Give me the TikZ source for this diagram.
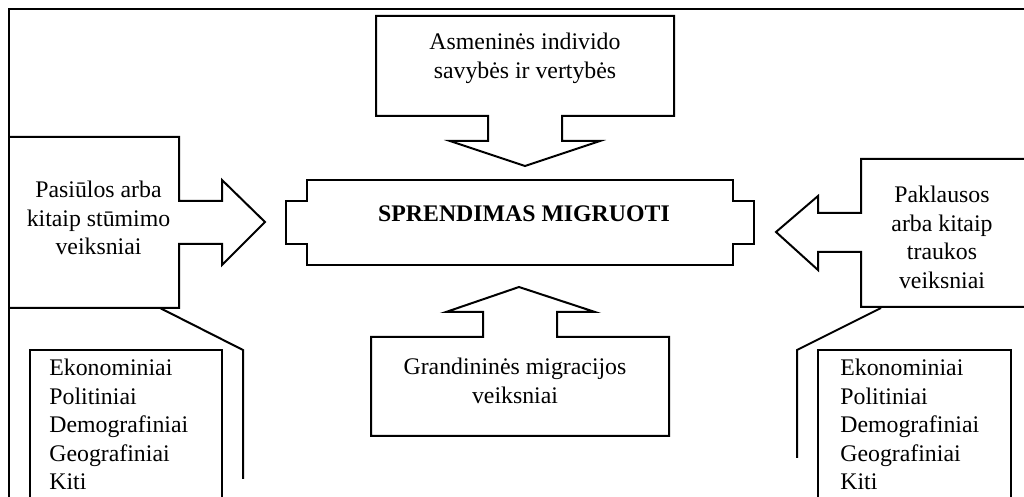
\documentclass[tikz,border=0pt]{standalone}
\usepackage{fontspec}
\setmainfont{Liberation Serif}
\tikzstyle{outline} = [draw,line width=1pt,line join=miter]
\tikzstyle{frame} = [draw,line width=1.3pt]
\tikzstyle{label} = [font=\fontsize{11.9}{14.25}\selectfont,align=center,inner sep=0pt,anchor=base]
\tikzstyle{listitem} = [font=\fontsize{11.9}{14.25}\selectfont,inner sep=0pt,anchor=base west]
\begin{document}
\begin{tikzpicture}[x=0.5pt,y=-0.5pt]
    \useasboundingbox (0,0) rectangle (1024,497);
    %% outer frame
    \draw[frame] (9,497) -- (9,9) -- (1024,9);
    %% block arrows
    \draw[outline] (376,16) -- (674,16) -- (674,116) -- (562,116) -- (562,141) -- (600,141)
      -- (525,166) -- (450,141) -- (488,141) -- (488,116) -- (376,116) -- cycle;
    \draw[outline] (9,137) -- (179,137) -- (179,201) -- (222,201) -- (222,180) -- (265,222)
      -- (222,265) -- (222,244) -- (179,244) -- (179,308) -- (9,308);
    \draw[outline] (307,180) -- (733,180) -- (733,201) -- (754,201) -- (754,244) -- (733,244)
      -- (733,265) -- (307,265) -- (307,244) -- (286,244) -- (286,201) -- (307,201) -- cycle;
    \draw[outline] (371,436) -- (371,337) -- (483,337) -- (483,312) -- (446,312) -- (519,287)
      -- (595,312) -- (557,312) -- (557,337) -- (669,337) -- (669,436) -- cycle;
    \draw[outline] (1024,159) -- (861,159) -- (861,213) -- (818,213) -- (818,196) -- (776,232)
      -- (818,270) -- (818,252) -- (861,252) -- (861,307) -- (1024,307);
    %% labels (placed at the baseline of their last line)
    \node[label] (own) at (525,78.5) {Asmeninės individo\\savybės ir vertybės};
    \node[label] (push) at (98.5,255) {Pasiūlos arba\\kitaip stūmimo\\veiksniai};
    \node[label] (decision) at (524,222) {\textbf{SPRENDIMAS MIGRUOTI}};
    \node[label] (pull) at (942,288.5) {Paklausos\\arba kitaip\\traukos\\veiksniai};
    \node[label] (chain) at (515,403.5) {Grandininės migracijos\\veiksniai};
    %% factor lists
    \foreach \side/\xbox/\xtext/\xhook/\xcorner/\xend/\yend in {
      l/30/49/160/243/222/479, r/818/840/881/797/1011/458}
    {
      \draw[outline] (\xbox,497) -- (\xbox,350) -- (\xend,350) -- (\xend,497);
      \coordinate (\side top) at (\xhook,308);
      \coordinate (\side bend) at (\xcorner,350);
      \coordinate (\side end) at (\xcorner,\yend);
      \draw[outline] (\side top) -- (\side bend) -- (\side end);
      \foreach \item/\y [count=\i] in {
        Ekonominiai/376, Politiniai/404.5, Demografiniai/433, Geografiniai/461.5, Kiti/490}
      {
        \node[listitem] (\side\i) at (\xtext,\y) {\item};
      }
    }
\end{tikzpicture}
\end{document}
